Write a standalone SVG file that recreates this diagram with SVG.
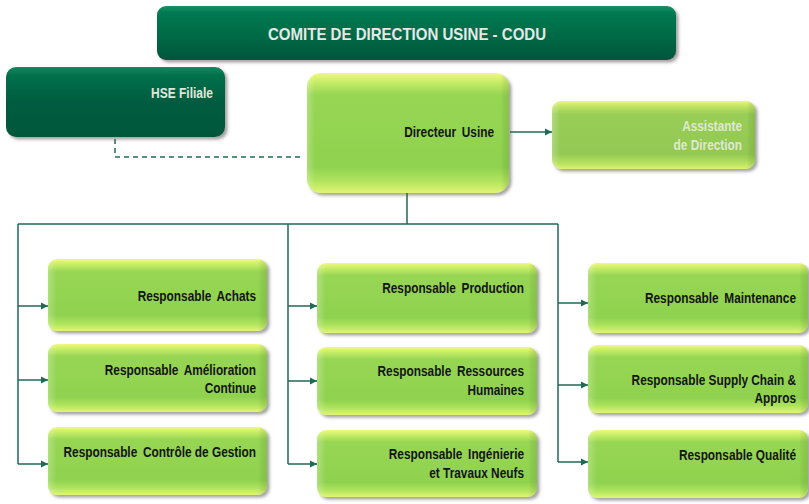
<svg xmlns="http://www.w3.org/2000/svg" width="809" height="504" viewBox="0 0 809 504">
  <defs>
    <linearGradient id="lime" x1="0" y1="0" x2="0" y2="1">
      <stop offset="0" stop-color="#f2f97e"/>
      <stop offset="0.07" stop-color="#c9ee68"/>
      <stop offset="0.18" stop-color="#97d653"/>
      <stop offset="0.78" stop-color="#8fd24f"/>
      <stop offset="0.9" stop-color="#b0e45d"/>
      <stop offset="1" stop-color="#e2f574"/>
    </linearGradient>
    <linearGradient id="limeSoft" x1="0" y1="0" x2="0" y2="1">
      <stop offset="0" stop-color="#eef67c"/>
      <stop offset="0.08" stop-color="#c0e364"/>
      <stop offset="0.2" stop-color="#98cd56"/>
      <stop offset="0.78" stop-color="#93c953"/>
      <stop offset="0.9" stop-color="#b1de5e"/>
      <stop offset="1" stop-color="#dcf272"/>
    </linearGradient>
    <linearGradient id="edge" x1="0" y1="0" x2="1" y2="0">
      <stop offset="0" stop-color="#ffffff" stop-opacity="0.25"/>
      <stop offset="0.04" stop-color="#ffffff" stop-opacity="0"/>
      <stop offset="0.96" stop-color="#000000" stop-opacity="0"/>
      <stop offset="1" stop-color="#3a6a10" stop-opacity="0.15"/>
    </linearGradient>
    <linearGradient id="dark" x1="0" y1="0" x2="0" y2="1">
      <stop offset="0" stop-color="#169166"/>
      <stop offset="0.12" stop-color="#037a52"/>
      <stop offset="0.55" stop-color="#006a46"/>
      <stop offset="1" stop-color="#00553a"/>
    </linearGradient>
    <linearGradient id="darkHse" x1="0" y1="0" x2="0" y2="1">
      <stop offset="0" stop-color="#148a62"/>
      <stop offset="0.12" stop-color="#03704b"/>
      <stop offset="0.5" stop-color="#005c3f"/>
      <stop offset="1" stop-color="#00573b"/>
    </linearGradient>
    <filter id="shadow" x="-5%" y="-10%" width="115%" height="130%">
      <feDropShadow dx="2.5" dy="2.5" stdDeviation="1.6" flood-color="#555555" flood-opacity="0.55"/>
    </filter>
    <marker id="arrow" viewBox="0 0 10 10" refX="10" refY="5" markerWidth="5" markerHeight="5" markerUnits="strokeWidth" orient="auto">
      <path d="M0,0 L10,5 L0,10 Z" fill="#1f6a55"/>
    </marker>
  </defs>
  <style>
    .box { fill: url(#lime); filter: url(#shadow); }
    .soft { fill: url(#limeSoft); filter: url(#shadow); }
    .bevel { fill: url(#edge); }
    .dk { fill: url(#dark); filter: url(#shadow); }
    .dkh { fill: url(#darkHse); filter: url(#shadow); }
    /* condensed bold labels: Liberation Sans squeezed horizontally by the transform on each text */
    .lbl { font-family: "Liberation Sans", Arial, sans-serif; font-weight: bold; font-size: 15px; fill: #141414; text-anchor: end; }
    .wide { word-spacing: 3px; }
    .title { font-family: "Liberation Sans", Arial, sans-serif; font-weight: bold; font-size: 16px; fill: #e4e8e6; text-anchor: middle; }
    .light { fill: #e2e6dc; }
    .pale { fill: #dfe8cf; }
    .wire { fill: none; stroke: #1f6a55; stroke-width: 1.5; }
    .dash { fill: none; stroke: #1f6a55; stroke-width: 1.5; stroke-dasharray: 5 4; }
  </style>

  <!-- connectors -->
  <g id="connectors">
    <path class="dash" d="M115,139 V157 H302"/>
    <path class="wire" d="M510,132 H552" marker-end="url(#arrow)"/>
    <path class="wire" d="M407,193 V224 M18,224 H558 M18,224 V464 M288,224 V464 M558,224 V462"/>
    <path class="wire" d="M18,306 H48" marker-end="url(#arrow)"/>
    <path class="wire" d="M18,380 H48" marker-end="url(#arrow)"/>
    <path class="wire" d="M18,464 H48" marker-end="url(#arrow)"/>
    <path class="wire" d="M288,306 H317" marker-end="url(#arrow)"/>
    <path class="wire" d="M288,381 H317" marker-end="url(#arrow)"/>
    <path class="wire" d="M288,464 H317" marker-end="url(#arrow)"/>
    <path class="wire" d="M558,303 H588" marker-end="url(#arrow)"/>
    <path class="wire" d="M558,385 H588" marker-end="url(#arrow)"/>
    <path class="wire" d="M558,462 H588" marker-end="url(#arrow)"/>
  </g>

  <!-- committee banner -->
  <g id="codu">
    <rect class="dk" x="157" y="6" width="519" height="54" rx="9"/>
    <text class="title" transform="matrix(0.94 0 0 1 407 40)">COMITE DE DIRECTION USINE - CODU</text>
  </g>

  <g id="hse">
    <rect class="dkh" x="6" y="67" width="219" height="70" rx="10"/>
    <text class="lbl light" font-size="14" transform="matrix(0.8 0 0 1 213 98)">HSE Filiale</text>
  </g>

  <g id="directeur">
    <rect class="box" x="307" y="73" width="202" height="120" rx="14"/>
    <rect class="bevel" x="307" y="73" width="202" height="120" rx="14"/>
    <text class="lbl wide" transform="matrix(0.79 0 0 1 494 137)">Directeur Usine</text>
  </g>

  <g id="assistante">
    <rect class="soft" x="552" y="101" width="203" height="68" rx="9"/>
    <rect class="bevel" x="552" y="101" width="203" height="68" rx="9"/>
    <text class="lbl pale" transform="matrix(0.79 0 0 1 742 131)">Assistante</text>
    <text class="lbl pale" transform="matrix(0.79 0 0 1 742 150)">de Direction</text>
  </g>

  <!-- left column -->
  <g id="achats">
    <rect class="box" x="48" y="259" width="219" height="72" rx="9"/>
    <rect class="bevel" x="48" y="259" width="219" height="72" rx="9"/>
    <text class="lbl wide" transform="matrix(0.79 0 0 1 256 301)">Responsable Achats</text>
  </g>
  <g id="amelioration">
    <rect class="box" x="48" y="344" width="219" height="68" rx="9"/>
    <rect class="bevel" x="48" y="344" width="219" height="68" rx="9"/>
    <text class="lbl wide" transform="matrix(0.79 0 0 1 256 375)">Responsable Amélioration</text>
    <text class="lbl" transform="matrix(0.79 0 0 1 256 393)">Continue</text>
  </g>
  <g id="controle">
    <rect class="box" x="48" y="427" width="219" height="68" rx="9"/>
    <rect class="bevel" x="48" y="427" width="219" height="68" rx="9"/>
    <text class="lbl" transform="matrix(0.79 0 0 1 256 457)"><tspan word-spacing="3">Responsable Contrôle</tspan> de Gestion</text>
  </g>

  <!-- middle column -->
  <g id="production">
    <rect class="box" x="317" y="263" width="220" height="70" rx="9"/>
    <rect class="bevel" x="317" y="263" width="220" height="70" rx="9"/>
    <text class="lbl wide" transform="matrix(0.79 0 0 1 524 293)">Responsable Production</text>
  </g>
  <g id="rh">
    <rect class="box" x="317" y="347" width="220" height="68" rx="9"/>
    <rect class="bevel" x="317" y="347" width="220" height="68" rx="9"/>
    <text class="lbl wide" transform="matrix(0.79 0 0 1 524 376)">Responsable Ressources</text>
    <text class="lbl" transform="matrix(0.79 0 0 1 524 395)">Humaines</text>
  </g>
  <g id="ingenierie">
    <rect class="box" x="317" y="430" width="220" height="67" rx="9"/>
    <rect class="bevel" x="317" y="430" width="220" height="67" rx="9"/>
    <text class="lbl wide" transform="matrix(0.79 0 0 1 524 459)">Responsable Ingénierie</text>
    <text class="lbl" transform="matrix(0.79 0 0 1 524 478)">et Travaux Neufs</text>
  </g>

  <!-- right column -->
  <g id="maintenance">
    <rect class="box" x="588" y="263" width="220" height="70" rx="9"/>
    <rect class="bevel" x="588" y="263" width="220" height="70" rx="9"/>
    <text class="lbl wide" transform="matrix(0.79 0 0 1 796 303)">Responsable Maintenance</text>
  </g>
  <g id="supply">
    <rect class="box" x="588" y="345" width="220" height="68" rx="9"/>
    <rect class="bevel" x="588" y="345" width="220" height="68" rx="9"/>
    <text class="lbl" transform="matrix(0.79 0 0 1 796 385)">Responsable Supply Chain &amp;</text>
    <text class="lbl" transform="matrix(0.79 0 0 1 796 403)">Appros</text>
  </g>
  <g id="qualite">
    <rect class="box" x="588" y="430" width="220" height="68" rx="9"/>
    <rect class="bevel" x="588" y="430" width="220" height="68" rx="9"/>
    <text class="lbl" transform="matrix(0.79 0 0 1 796 460)">Responsable Qualité</text>
  </g>
</svg>
